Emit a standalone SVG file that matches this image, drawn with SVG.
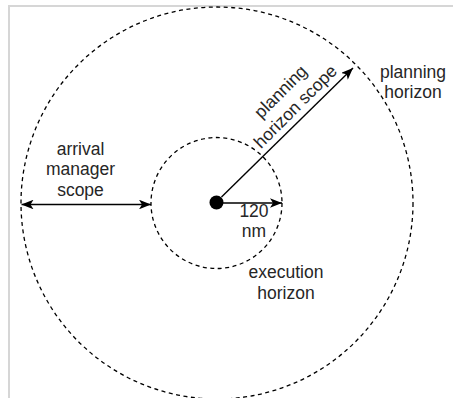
<svg xmlns="http://www.w3.org/2000/svg" width="453" height="398" viewBox="0 0 453 398">
  <style>
    .ring { fill: none; stroke: #000; stroke-width: 1.3; stroke-dasharray: 4 3.5; }
    .conn { fill: none; stroke: #000; stroke-width: 1.4; }
    .lbl { font-family: "Liberation Sans", Arial, Helvetica, sans-serif; font-size: 17.5px; fill: #262626; text-anchor: middle; }
    .frame { stroke: #d6d6d6; stroke-width: 2; fill: none; }
  </style>
  <defs>
    <marker id="arrow" viewBox="0 0 10 8" refX="10" refY="4" markerWidth="12" markerHeight="9.6" markerUnits="userSpaceOnUse" orient="auto-start-reverse">
      <path d="M0,0 L10,4 L0,8 L2.5,4 Z" fill="#000"/>
    </marker>
  </defs>
  <rect width="453" height="398" fill="#fff"/>
  <g id="frame">
    <line class="frame" x1="8" y1="6" x2="453" y2="6"/>
    <line class="frame" x1="9" y1="5" x2="9" y2="398"/>
  </g>
  <g id="planning-horizon">
    <circle class="ring" cx="217" cy="203" r="196"/>
    <text class="lbl" x="413" y="77.5">planning</text>
    <text class="lbl" x="413" y="98">horizon</text>
  </g>
  <g id="execution-horizon">
    <circle class="ring" cx="216.5" cy="203" r="65.5"/>
    <text class="lbl" x="286" y="278">execution</text>
    <text class="lbl" x="286" y="299">horizon</text>
  </g>
  <g id="center">
    <circle cx="216.5" cy="202.5" r="7" fill="#000"/>
  </g>
  <g id="connectors">
    <line class="conn" x1="21.5" y1="204.5" x2="151" y2="204.5" marker-start="url(#arrow)" marker-end="url(#arrow)"/>
    <line class="conn" x1="223" y1="203" x2="282" y2="203" marker-end="url(#arrow)"/>
    <line class="conn" x1="221.5" y1="197" x2="353" y2="68" marker-end="url(#arrow)"/>
  </g>
  <g id="label-arrival-manager-scope">
    <text class="lbl" x="80.5" y="154.5">arrival</text>
    <text class="lbl" x="80.5" y="175">manager</text>
    <text class="lbl" x="80.5" y="195.5">scope</text>
  </g>
  <g id="label-120nm">
    <text class="lbl" x="254" y="217">120</text>
    <text class="lbl" x="254" y="237">nm</text>
  </g>
  <g id="label-planning-horizon-scope" transform="translate(289,100) rotate(-45)">
    <text class="lbl" x="0" y="-6">planning</text>
    <text class="lbl" x="0" y="15">horizon scope</text>
  </g>
</svg>
